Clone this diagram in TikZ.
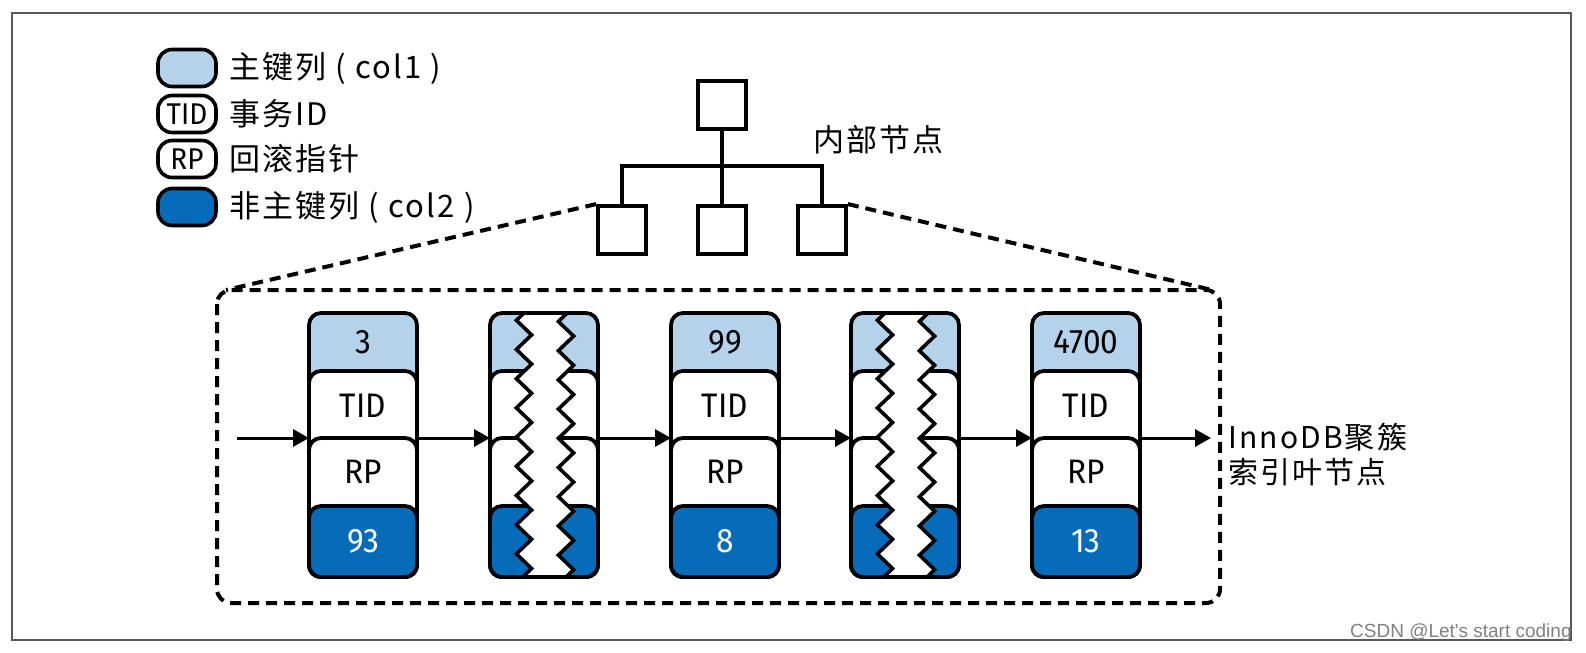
\documentclass[tikz,border=0pt]{standalone}
\usepackage{fontspec}
\setmainfont[LetterSpace=7]{Noto Sans CJK SC}
\newfontfamily\condfont[FakeStretch=0.93]{Fira Sans}
\newfontfamily\markfont{Liberation Sans}
\usepackage{tikz}
\usetikzlibrary{
  arrows.meta,
  calc,
  decorations.pathmorphing
}

\definecolor{keyblue}{RGB}{180,211,235}
\definecolor{colblue}{RGB}{6,108,186}

\tikzset{
  seg/.style={draw=black, line width=1.9pt, rounded corners=6pt},
  legbox/.style={draw=black, line width=1.8pt, rounded corners=7pt,
    minimum width=29pt, minimum height=18.5pt, inner sep=0pt,
    font=\condfont\fontsize{15}{16}\selectfont},
  legtxt/.style={anchor=west, inner sep=0pt, font=\fontsize{15.5}{18}\selectfont},
  reclbl/.style={inner sep=0pt, font=\condfont\fontsize{17}{18}\selectfont},
  sq/.style={draw=black, line width=1.9pt, minimum size=24pt, inner sep=0pt},
  tree/.style={line width=1.9pt},
  cut/.style={line width=2pt, dash pattern=on 5.5pt off 3.5pt},
  link/.style={line width=1.5pt, -{Triangle[length=8pt, width=8.5pt]}},
  zig/.style={decoration={zigzag, segment length=14.6pt, amplitude=3.8pt, mirror}}
}

% 一条记录的四个字段: #1 名称, #2 左边 x
\newcommand{\recbody}[2]{
  \draw[seg, fill=keyblue] (#2,313) rectangle (#2+108,577);
  \draw[seg, fill=white] (#2,371) rectangle (#2+108,577);
  \draw[seg, fill=white] (#2,438) rectangle (#2+108,577);
  \draw[seg, fill=colblue] (#2,506) rectangle (#2+108,577);
  \coordinate (#1-in) at (#2,438);
  \coordinate (#1-out) at (#2+108,438);
}

% 完整记录: #3 col1, #4 col2
\newcommand{\leafrec}[4]{
  \recbody{#1}{#2}
  \node[reclbl] (#1-key) at (#2+54,342) {#3};
  \node[reclbl] (#1-tid) at (#2+54,406) {TID};
  \node[reclbl] (#1-rp) at (#2+54,472) {RP};
  \node[reclbl, text=white] (#1-col) at (#2+54,541) {#4};
}

% 被省略的记录 (中间锯齿状截断)
\newcommand{\cutrec}[2]{
  \recbody{#1}{#2}
  \path[zig, draw=black, fill=white, line width=1.8pt]
    (#2+34,313) decorate {-- (#2+34,577)} -- (#2+76,577)
    decorate {-- (#2+76,313)} -- cycle;
}

\begin{document}
\begin{tikzpicture}[x=0.5pt, y=-0.5pt]
    % 0. 画布与外框
    \useasboundingbox (0,0) rectangle (1586,653);
    \draw[gray!70!black, line width=0.8pt] (12,13) rectangle (1571,640);

    % 1. 图例
    \foreach \n/\y/\fc/\tag/\txt in {key/68/keyblue//主键列 ( col1 ), tid/114/white/TID/事务ID, rp/159/white/RP/回滚指针, col/207/colblue//非主键列 ( col2 )} {
        \node[legbox, fill=\fc] (\n-box) at (187,\y) {\tag};
        \node[legtxt] (\n-txt) at (229,\y) {\txt};
    }

    % 2. 内部节点 (上层)
    \node[sq] (root) at (722,105) {};
    \foreach \n/\x in {left/622, mid/722, right/822}
        \node[sq] (\n) at (\x,230) {};
    \draw[tree] (root) -- (mid);
    \draw[tree] (left.north) -- ++(0,-38) -| (right.north);
    \node[legtxt] (inner) at (813,140) {内部节点};

    % 3. 叶子页虚线框与展开线
    \draw[cut, rounded corners=7pt] (217,290) rectangle (1220,603);
    \coordinate (pageL) at (226,290);
    \coordinate (pageR) at (1212,290);
    \draw[cut] (left.north west) -- (pageL);
    \draw[cut] (right.north east) -- (pageR);

    % 4. 记录 (第2、4条被截断)
    \leafrec{r1}{309}{3}{93}
    \cutrec{r2}{490}
    \leafrec{r3}{671}{99}{8}
    \cutrec{r4}{851}
    \leafrec{r5}{1032}{4700}{13}

    % 5. 记录之间的指针
    \coordinate (head) at (237,438);
    \coordinate (tail) at (1211,438);
    \draw[link] (head) -- (r1-in);
    \foreach \a/\b in {r1/r2, r2/r3, r3/r4, r4/r5}
        \draw[link] (\a-out) -- (\b-in);
    \draw[link] (r5-out) -- (tail);
    \node[anchor=west, align=left, inner sep=0pt, font=\fontsize{15}{17.5}\selectfont] (leafname) at (1228,455) {InnoDB聚簇\\索引叶节点};

    % 6. 水印
    \node[anchor=east, inner sep=0pt, text=gray, font=\markfont\fontsize{9.5}{11}\selectfont] (mark) at (1572,633) {CSDN @Let's start coding};
\end{tikzpicture}
\end{document}
